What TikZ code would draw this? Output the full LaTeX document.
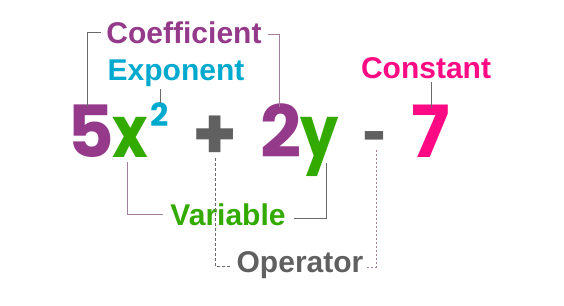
\documentclass[tikz,border=0pt]{standalone}
\usepackage{fontspec}
\setmainfont{Liberation Sans}
\newfontfamily\eqfont{Poppins}
\definecolor{coefcol}{HTML}{953A8B}
\definecolor{expcol}{HTML}{00A9CE}
\definecolor{varcol}{HTML}{33AA00}
\definecolor{constcol}{HTML}{FF0A84}
\definecolor{opcol}{HTML}{606060}
\definecolor{leadgray}{HTML}{6A6A6A}
\definecolor{leadmauve}{HTML}{A57E9C}
\begin{document}
\begin{tikzpicture}[x=1pt,y=1pt,
  label/.style={font=\fontsize{30}{30}\selectfont\bfseries, inner sep=0pt},
  glyph/.style={font=\eqfont\fontsize{72}{72}\selectfont\bfseries, inner sep=0pt, anchor=base},
  narrowglyph/.style={glyph, xscale=0.84},
  supglyph/.style={font=\eqfont\fontsize{32}{32}\selectfont\bfseries, inner sep=0pt, anchor=base},
  lead/.style={line width=1pt, leadgray},
  leadm/.style={line width=1pt, leadmauve}]
\useasboundingbox (0,0) rectangle (564,305);
\fill[white] (0,0) rectangle (564,305);

% the expression 5x^2 + 2y - 7
\node[glyph, text=coefcol] (five) at (91,147) {5};
\node[narrowglyph, text=varcol] (x) at (130,147) {x};
\node[supglyph, text=expcol] (sq) at (160,178) {2};
\node[glyph, text=opcol, anchor=center] (plus) at (215,167) {+};
\node[glyph, text=coefcol] (two) at (281,147) {2};
\node[narrowglyph, text=varcol] (y) at (320,147) {y};
\node[font=\fontsize{72}{72}\selectfont\bfseries, inner sep=0pt, text=opcol, anchor=base] (minus) at (374,150) {-};
\node[glyph, text=constcol] (seven) at (431,147) {7};

% term labels
\node[label, text=coefcol] (coef) at (184,272) {Coefficient};
\node[label, text=expcol] (expo) at (176,232) {Exponent};
\node[label, text=constcol] (const) at (426,237) {Constant};
\node[label, text=varcol] (var) at (228,90) {Variable};
\node[label, text=opcol] (oper) at (300,40) {Operator};

% anchor points for the leader lines
\coordinate (c5) at (87,198);
\coordinate (c2) at (279,198);
\coordinate (cx) at (127,143);
\coordinate (cy) at (326,142);
\coordinate (cplus) at (215,147);
\coordinate (cminus) at (376,155);

% coefficient bracket
\draw[lead] ([xshift=-5pt]coef.west) -| (c5);
\draw[leadm] ([xshift=6pt,yshift=-2pt]coef.east) -| (c2);
% exponent and constant leaders
\draw[lead] ([xshift=-16pt,yshift=-2pt]expo.south) -- (sq.north);
\draw[lead] ([yshift=-3pt]const.south -| seven.north) -- ([yshift=-3pt]seven.north);
% variable bracket
\draw[leadm] (cx) |- ([xshift=-7pt]var.west);
\draw[lead] ([xshift=8pt,yshift=-4pt]var.east) -| (cy);
% operator bracket
\draw[lead, dash pattern=on 3pt off 2pt] (cplus) |- ([xshift=-5pt,yshift=-1pt]oper.west);
\draw[leadm, dash pattern=on 2pt off 2pt] (cminus) |- ([xshift=3pt,yshift=-2pt]oper.east);
\end{tikzpicture}
\end{document}
